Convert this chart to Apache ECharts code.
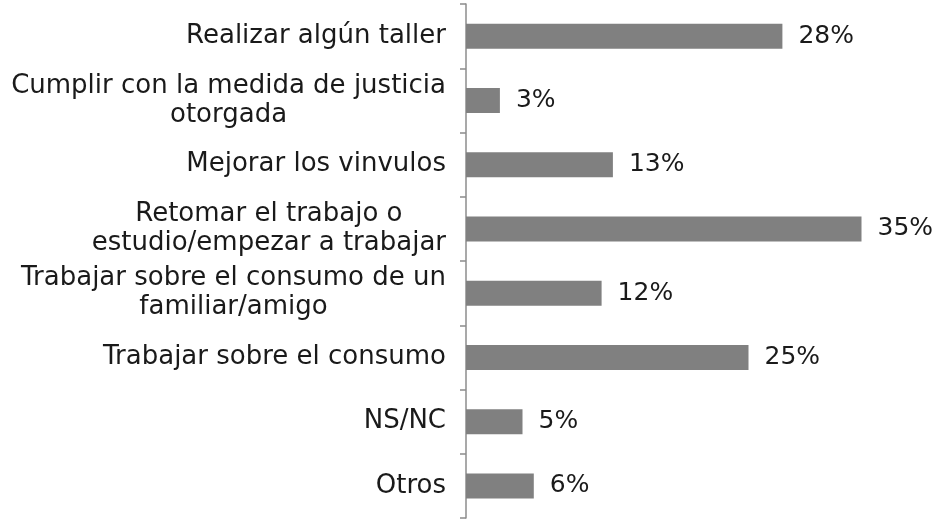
<!DOCTYPE html>
<html>
<head>
<meta charset="utf-8">
<script src="https://cdn.jsdelivr.net/npm/echarts@6/dist/echarts.min.js"></script>
<style>
  html, body { margin: 0; padding: 0; background: #fff; }
  #chart { width: 932px; height: 523px; }
</style>
</head>
<body>
<div id="chart"></div>
<script>
  // categorias, de arriba hacia abajo
  var categorias = [
    'Realizar algún taller',
    'Cumplir con la medida de justicia\notorgada',
    'Mejorar los vinvulos',
    'Retomar el trabajo o\nestudio/empezar a trabajar',
    'Trabajar sobre el consumo de un\nfamiliar/amigo',
    'Trabajar sobre el consumo',
    'NS/NC',
    'Otros'
  ]
  var valores = [28, 3, 13, 35, 12, 25, 5, 6]

  var fuente = 'DejaVu Sans'
  var chart = echarts.init(document.getElementById('chart'))
  chart.setOption({
    animation: false,
    grid: { left: 466, right: 14, top: 4, bottom: 5, containLabel: false },
    xAxis: {
      type: 'value',
      min: 0,
      max: 40,
      show: false
    },
    yAxis: {
      type: 'category',
      inverse: true,
      data: categorias,
      axisLine: { show: true, lineStyle: { color: '#8c8c8c', width: 1.5 } },
      axisTick: { show: true, length: 6, lineStyle: { color: '#8c8c8c', width: 1.5 } },
      axisLabel: {
        margin: 20,
        color: '#1a1a1a',
        fontFamily: fuente,
        fontSize: 26,
        lineHeight: 29,
        formatter: function (v) {
          // cada linea centrada dentro del bloque
          return v.split('\n').map(function (l) { return '{c|' + l + '}' }).join('\n')
        },
        rich: {
          c: { align: 'center', fontFamily: fuente, fontSize: 26, lineHeight: 29, color: '#1a1a1a' }
        }
      },
      splitLine: { show: false }
    },
    series: [{
      type: 'bar',
      data: valores,
      barWidth: 25,
      itemStyle: { color: '#808080' },
      label: {
        show: true,
        position: 'right',
        distance: 16,
        formatter: '{c}%',
        color: '#1a1a1a',
        fontFamily: fuente,
        fontSize: 25
      }
    }]
  })
</script>
</body>
</html>
